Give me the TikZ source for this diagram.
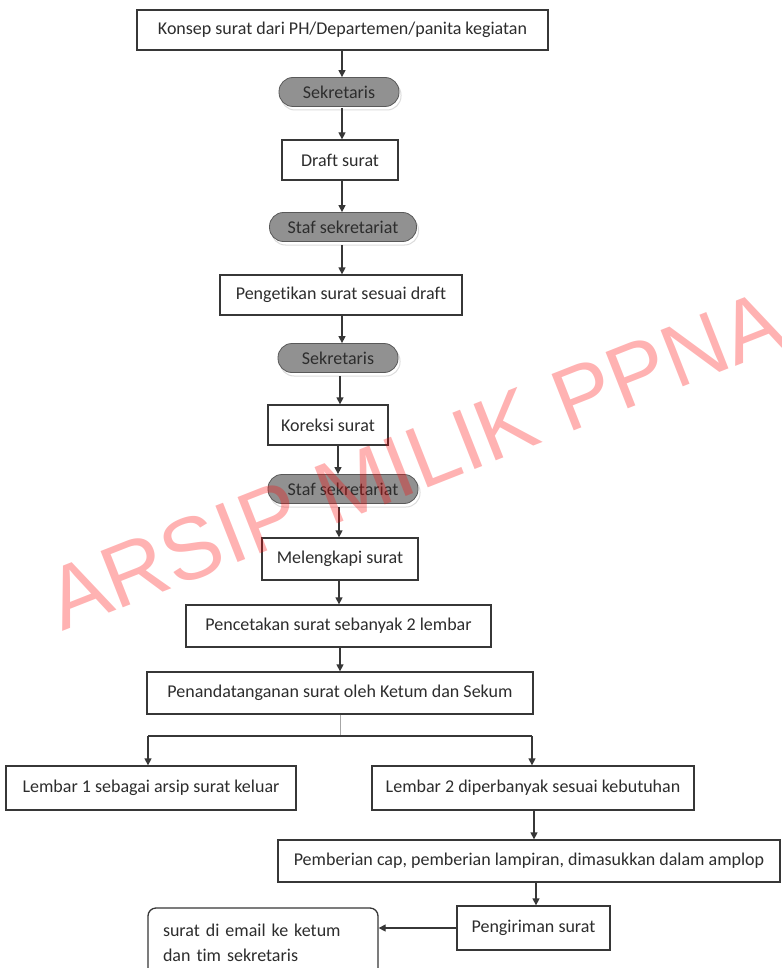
\documentclass[tikz,border=0pt]{standalone}
\usepackage{fontspec}
\setmainfont{Carlito}[Ligatures=NoCommon]
\newfontfamily\wmfont{Liberation Sans}
\usetikzlibrary{arrows.meta,shadows}
\definecolor{txt}{RGB}{45,45,45}
\definecolor{linec}{RGB}{55,55,55}
\definecolor{pillgray}{RGB}{145,145,145}
\begin{document}
\begin{tikzpicture}[x=1pt,y=-1pt,
  every node/.style={font=\fontsize{18}{25}\selectfont, text=txt},
  stepbox/.style={draw=linec, line width=1.3pt, fill=white, inner sep=0pt, minimum height=40pt},
  pill/.style={draw=gray!70!black, line width=0.8pt, fill=pillgray, rounded corners=14pt,
    minimum height=29pt, inner sep=0pt,
    drop shadow={shadow xshift=2pt, shadow yshift=-3.5pt, fill=white, draw=gray!55, line width=1pt}},
  arr/.style={draw=linec, line width=1.3pt, -{Triangle[length=7pt,width=7pt]}},
  plainline/.style={draw=linec, line width=1.3pt},
  ]
\useasboundingbox (0,0) rectangle (781,968);
\fill[white] (0,0) rectangle (781,968);

\node[stepbox, minimum width=411pt] (konsep) at (342.5,30) {Konsep surat dari PH/Departemen/panita kegiatan};
\node[pill, minimum width=120pt] (sek1) at (339,92) {Sekretaris};
\node[stepbox, minimum width=116pt] (draft) at (340,160) {Draft surat};
\node[pill, minimum width=147pt] (staf1) at (343,227) {Staf sekretariat};
\node[stepbox, minimum width=242pt] (ketik) at (341,295) {Pengetikan surat sesuai draft};
\node[pill, minimum width=120pt] (sek2) at (338,358) {Sekretaris};
\node[stepbox, minimum width=120pt] (koreksi) at (328,425) {Koreksi surat};
\node[pill, minimum width=150pt] (staf2) at (343,489) {Staf sekretariat};
\node[stepbox, minimum width=156pt, minimum height=42pt] (lengkap) at (340,559) {Melengkapi surat};
\node[stepbox, minimum width=305pt, minimum height=42pt] (cetak) at (338.5,626) {Pencetakan surat sebanyak 2 lembar};
\node[stepbox, minimum width=386pt, minimum height=42pt] (tanda) at (340,693) {Penandatanganan surat oleh Ketum dan Sekum};
\node[stepbox, minimum width=290pt, minimum height=44pt] (lembar1) at (151,788) {Lembar 1 sebagai arsip surat keluar};
\node[stepbox, minimum width=322pt, minimum height=44pt] (lembar2) at (533,788) {Lembar 2 diperbanyak sesuai kebutuhan};
\node[stepbox, minimum width=502pt, minimum height=42pt] (cap) at (529,861) {Pemberian cap, pemberian lampiran, dimasukkan dalam amplop};
\node[stepbox, minimum width=153pt, minimum height=44pt] (kirim) at (533.5,928) {Pengiriman surat};
\node[draw=linec, line width=1.3pt, fill=white, rounded corners=8pt, minimum width=230pt,
  minimum height=70pt, inner xsep=15pt, inner ysep=0pt, text width=200pt, align=left] (email) at (263,943)
  {surat di email ke ketum\\dan tim sekretaris};

\coordinate (split) at (340,736);

\draw[arr] (konsep.south -| 342,0) -- (sek1.north -| 342,0);
\draw[arr] (342,108) -- (draft.north -| 342,0);
\draw[arr] (draft.south -| 342,0) -- (staf1.north -| 342,0);
\draw[arr] (342,245) -- (ketik.north -| 342,0);
\draw[arr] (ketik.south -| 342,0) -- (sek2.north -| 342,0);
\draw[arr] (340,376) -- (koreksi.north -| 340,0);
\draw[arr] (koreksi.south -| 338,0) -- (staf2.north -| 338,0);
\draw[arr] (339,507) -- (lengkap.north -| 339,0);
\draw[arr] (lengkap.south -| 339,0) -- (cetak.north -| 339,0);
\draw[arr] (cetak.south -| 340,0) -- (tanda.north -| 340,0);
\draw[draw=gray!70, line width=1pt] (tanda.south -| split) -- (split);
\draw[plainline] (148,736) -- (532,736);
\draw[arr] (148,736) -- (lembar1.north -| 148,0);
\draw[arr] (532,736) -- (lembar2.north -| 532,0);
\draw[arr] (lembar2.south -| 534,0) -- (cap.north -| 534,0);
\draw[arr] (cap.south -| 536,0) -- (kirim.north -| 536,0);
\draw[arr] (kirim.west) -- (kirim.west -| email.east);

\node[font=\wmfont\fontsize{88}{88}\selectfont, text=red, text opacity=0.3, rotate=21.5,
  anchor=base west, inner sep=0pt] (wm) at (62,632) {ARSIP MILIK PPNA};
\end{tikzpicture}
\end{document}
